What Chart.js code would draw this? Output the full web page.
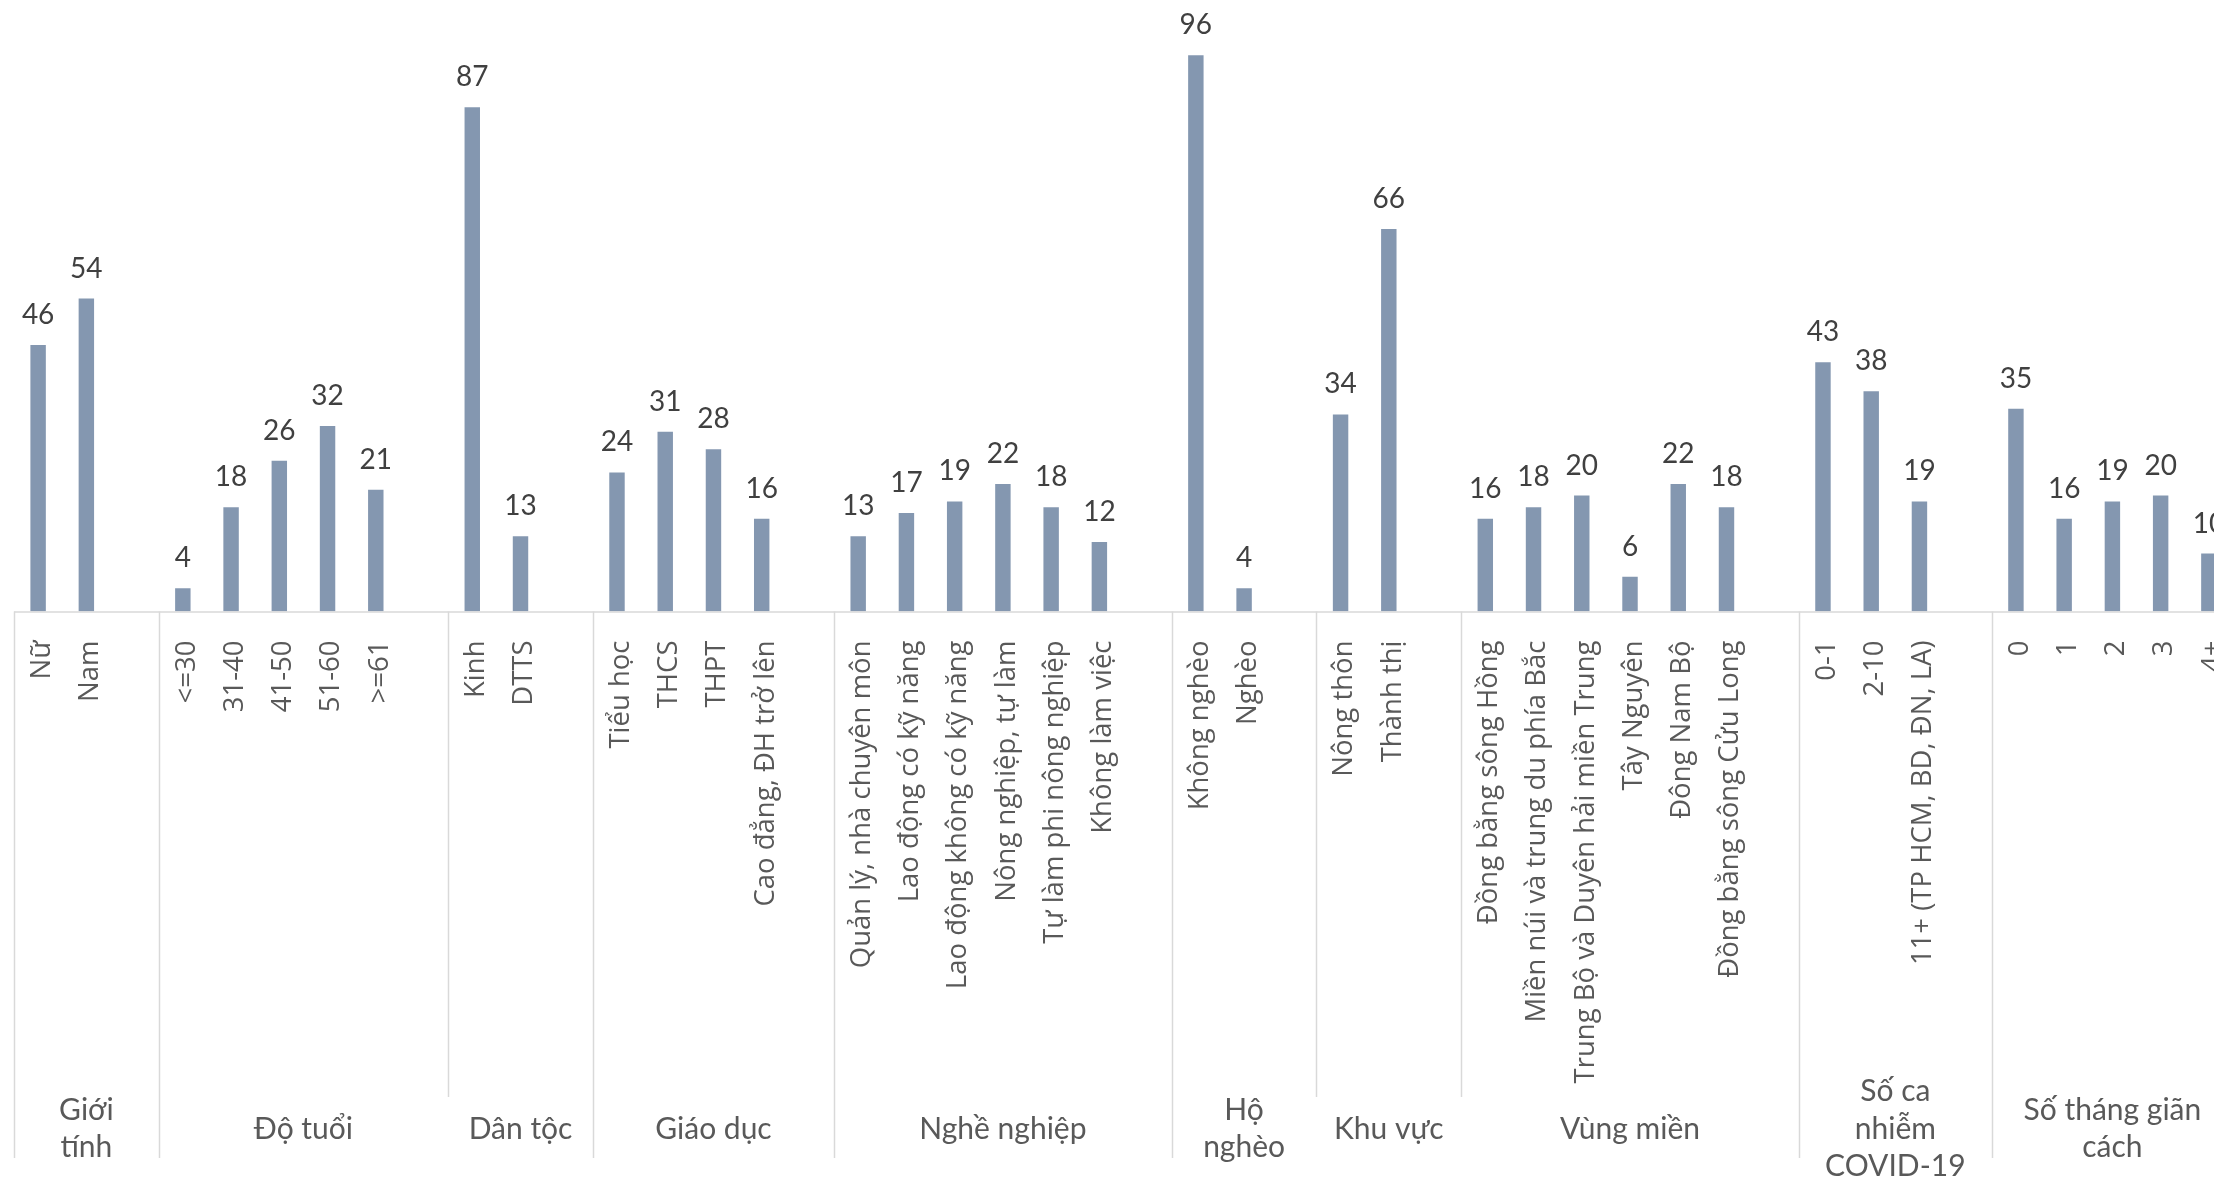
<!DOCTYPE html>
<html>
<head>
<meta charset="utf-8">
<script src="https://cdn.jsdelivr.net/npm/chart.js@4.4.1/dist/chart.umd.min.js"></script>
<style>
  html, body { margin: 0; padding: 0; background: #ffffff; overflow: hidden; width: 2214px; height: 1180px; }
  #wrap { position: relative; width: 2214px; height: 1180px; overflow: hidden; }
  canvas { display: block; position: absolute; left: 0; top: 0; }
</style>
</head>
<body>
<div id="wrap"><canvas id="chart" width="2240" height="1180" style="width:2240px;height:1180px"></canvas></div>
<script>
// ---- Data ----
const groupLabels = [
  ["Giới", "tính"],
  ["Độ tuổi"],
  ["Dân tộc"],
  ["Giáo dục"],
  ["Nghề nghiệp"],
  ["Hộ", "nghèo"],
  ["Khu vực"],
  ["Vùng miền"],
  ["Số ca", "nhiễm", "COVID-19"],
  ["Số tháng giãn", "cách"]
];
const catGioiTinh = ["Nữ", "Nam"];
const catDoTuoi = ["<=30", "31-40", "41-50", "51-60", ">=61"];
const catDanToc = ["Kinh", "DTTS"];
const catGiaoDuc = ["Tiểu học", "THCS", "THPT", "Cao đẳng, ĐH trở lên"];
const catNgheNghiep = ["Quản lý, nhà chuyên môn", "Lao động có kỹ năng", "Lao động không có kỹ năng", "Nông nghiệp, tự làm", "Tự làm phi nông nghiệp", "Không làm việc"];
const catHoNgheo = ["Không nghèo", "Nghèo"];
const catKhuVuc = ["Nông thôn", "Thành thị"];
const catVungMien = ["Đồng bằng sông Hồng", "Miền núi và trung du phía Bắc", "Trung Bộ và Duyên hải miền Trung", "Tây Nguyên", "Đông Nam Bộ", "Đồng bằng sông Cửu Long"];
const catSoCa = ["0-1", "2-10", "11+ (TP HCM, BD, ĐN, LA)"];
const catSoThang = ["0", "1", "2", "3", "4+"];

const valGioiTinh = [46, 54];
const valDoTuoi = [4, 18, 26, 32, 21];
const valDanToc = [87, 13];
const valGiaoDuc = [24, 31, 28, 16];
const valNgheNghiep = [13, 17, 19, 22, 18, 12];
const valHoNgheo = [96, 4];
const valKhuVuc = [34, 66];
const valVungMien = [16, 18, 20, 6, 22, 18];
const valSoCa = [43, 38, 19];
const valSoThang = [35, 16, 19, 20, 10];

const groupCats = [catGioiTinh, catDoTuoi, catDanToc, catGiaoDuc, catNgheNghiep, catHoNgheo, catKhuVuc, catVungMien, catSoCa, catSoThang];
const groupVals = [valGioiTinh, valDoTuoi, valDanToc, valGiaoDuc, valNgheNghiep, valHoNgheo, valKhuVuc, valVungMien, valSoCa, valSoThang];

// Flatten into one category axis with a blank slot after each group (except the last)
const labels = [];
const values = [];
const groupSpans = []; // [startIndex, endIndex] inclusive
groupCats.forEach((cats, g) => {
  const start = labels.length;
  cats.forEach((c, i) => { labels.push(c); values.push(groupVals[g][i]); });
  if (g < groupCats.length - 1) { labels.push(""); values.push(null); }
  groupSpans.push([start, labels.length - 1]);
});

// groups whose left boundary line stops at the inner label band
const shortLeftBoundary = new Set([2, 6, 7]);

const multiLevelPlugin = {
  id: 'multiLevel',
  afterDatasetsDraw(chart) {
    const ctx = chart.ctx;
    const meta = chart.getDatasetMeta(0);
    ctx.save();
    ctx.font = '28px Lato';
    ctx.fillStyle = '#404040';
    ctx.textAlign = 'center';
    ctx.textBaseline = 'alphabetic';
    meta.data.forEach((bar, i) => {
      const v = values[i];
      if (v === null || v === undefined) return;
      ctx.fillText(String(v), bar.x, bar.y - 21);
    });
    ctx.restore();
  },
  afterDraw(chart) {
    const ctx = chart.ctx;
    const x = chart.scales.x;
    const area = chart.chartArea;
    const half = (x.getPixelForValue(1) - x.getPixelForValue(0)) / 2;
    const axisY = area.bottom;
    const bottomY = 1158;
    const innerBottom = 1097;
    ctx.save();
    ctx.strokeStyle = '#d9d9d9';
    ctx.lineWidth = 1.5;
    // axis line
    ctx.beginPath();
    ctx.moveTo(area.left, axisY + 0.5);
    ctx.lineTo(area.right, axisY + 0.5);
    ctx.stroke();
    // group boundaries
    groupSpans.forEach((span, g) => {
      const bx = Math.round(x.getPixelForValue(span[0]) - half) + 0.5;
      ctx.beginPath();
      ctx.moveTo(bx, axisY);
      ctx.lineTo(bx, shortLeftBoundary.has(g) ? innerBottom : bottomY);
      ctx.stroke();
    });
    const last = groupSpans[groupSpans.length - 1];
    const rx = Math.round(x.getPixelForValue(last[1]) + half) + 0.5;
    ctx.beginPath();
    ctx.moveTo(rx, axisY);
    ctx.lineTo(rx, bottomY);
    ctx.stroke();
    // group labels
    ctx.font = '30px Lato';
    ctx.fillStyle = '#595959';
    ctx.textAlign = 'center';
    ctx.textBaseline = 'middle';
    const lh = 37.5;
    const cy = 1129;
    groupSpans.forEach((span, g) => {
      const cx = (x.getPixelForValue(span[0]) + x.getPixelForValue(span[1])) / 2;
      const lines = groupLabels[g];
      const y0 = cy - (lines.length - 1) * lh / 2;
      lines.forEach((t, k) => ctx.fillText(t, cx, y0 + k * lh));
    });
    ctx.restore();
  }
};

new Chart(document.getElementById('chart'), {
  type: 'bar',
  data: {
    labels: labels,
    datasets: [{
      data: values,
      backgroundColor: '#8497B0',
      borderWidth: 0,
      barPercentage: 0.32,
      categoryPercentage: 1
    }]
  },
  options: {
    responsive: false,
    maintainAspectRatio: false,
    devicePixelRatio: 1,
    animation: false,
    layout: { padding: { left: 14, right: 7, top: 32, bottom: 0 } },
    plugins: { legend: { display: false }, tooltip: { enabled: false } },
    scales: {
      x: {
        grid: { display: false },
        border: { display: false },
        ticks: {
          autoSkip: false,
          maxRotation: 90,
          minRotation: 90,
          padding: 21,
          labelOffset: 4,
          color: '#595959',
          font: { family: 'Open Sans', size: 27.5 }
        },
        afterFit(scale) {
          scale.height = 568.5;
          scale.paddingLeft = 0;
          scale.paddingRight = 0;
        }
      },
      y: { display: false, min: 0, max: 100 }
    }
  },
  plugins: [multiLevelPlugin]
});
</script>
</body>
</html>
